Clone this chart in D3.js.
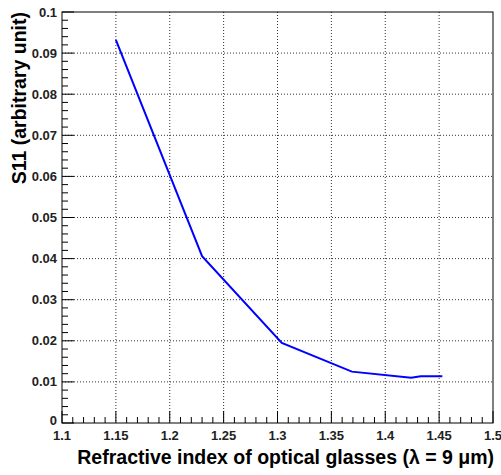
<!DOCTYPE html>
<html><head><meta charset="utf-8">
<script src="https://cdn.jsdelivr.net/npm/d3@7"></script>
<style>body{margin:0;background:#fff}svg{display:block}</style>
</head><body>
<script>
const xValues = [1.15, 1.23, 1.304, 1.369, 1.424, 1.433, 1.453];
const yValues = [0.0932, 0.0406, 0.0195, 0.0125, 0.0110, 0.0114, 0.0114];
const xTicks = [1.1, 1.15, 1.2, 1.25, 1.3, 1.35, 1.4, 1.45, 1.5];
const yTicks = [0, 0.01, 0.02, 0.03, 0.04, 0.05, 0.06, 0.07, 0.08, 0.09, 0.1];
const xTickLabels = ["1.1","1.15","1.2","1.25","1.3","1.35","1.4","1.45","1.5"];
const yTickLabels = ["0","0.01","0.02","0.03","0.04","0.05","0.06","0.07","0.08","0.09","0.1"];
const xTitle = "Refractive index of optical glasses (\u03bb = 9 \u03bcm)";
const yTitle = "S11 (arbitrary unit)";

const W = 501, H = 475;
const L = 62, R = 493, T = 12, B = 423;
const svg = d3.select("body").append("svg").attr("width", W).attr("height", H);
const x = d3.scaleLinear().domain([1.1, 1.5]).range([L, R]);
const y = d3.scaleLinear().domain([0, 0.1]).range([B, T]);
const font = "'Liberation Sans', Arial, sans-serif";

// grid
const g = svg.append("g");
g.selectAll(".vg").data(xTicks.slice(1, -1)).join("line")
  .attr("x1", d => x(d)).attr("x2", d => x(d)).attr("y1", T).attr("y2", B)
  .attr("stroke", "#333").attr("stroke-width", 1).attr("stroke-dasharray", "1,2");
g.selectAll(".hg").data(yTicks.slice(1, -1)).join("line")
  .attr("x1", L).attr("x2", R).attr("y1", d => y(d)).attr("y2", d => y(d))
  .attr("stroke", "#333").attr("stroke-width", 1).attr("stroke-dasharray", "1,2");

// minor ticks
const xMinor = d3.range(0, 41).map(i => 1.1 + i * 0.01);
const yMinor = d3.range(0, 51).map(i => i * 0.002);
svg.append("g").selectAll("line").data(xMinor).join("line")
  .attr("x1", d => x(d)).attr("x2", d => x(d)).attr("y1", B).attr("y2", (d, i) => B - (i % 5 === 0 ? 12 : 6))
  .attr("stroke", "#000").attr("stroke-width", 1);
svg.append("g").selectAll("line").data(yMinor).join("line")
  .attr("y1", d => y(d)).attr("y2", d => y(d)).attr("x1", L).attr("x2", (d, i) => L + (i % 5 === 0 ? 12 : 6))
  .attr("stroke", "#000").attr("stroke-width", 1);

// frame
svg.append("rect").attr("x", L).attr("y", T).attr("width", R - L).attr("height", B - T)
  .attr("fill", "none").attr("stroke", "#000").attr("stroke-width", 1);

// data line
const pts = xValues.map((v, i) => [v, yValues[i]]);
svg.append("path").datum(pts)
  .attr("d", d3.line().x(d => x(d[0])).y(d => y(d[1])))
  .attr("fill", "none").attr("stroke", "#0000ff").attr("stroke-width", 2);

// tick labels
svg.append("g").selectAll("text").data(xTicks).join("text")
  .attr("x", d => x(d)).attr("y", B + 17).attr("text-anchor", "middle")
  .attr("font-family", font).attr("font-weight", "bold").attr("font-size", 13).attr("fill", "#222")
  .text((d, i) => xTickLabels[i]);
svg.append("g").selectAll("text").data(yTicks).join("text")
  .attr("x", L - 5).attr("y", d => y(d) + (d === 0 ? 1.5 : 4.5)).attr("text-anchor", "end")
  .attr("font-family", font).attr("font-weight", "bold").attr("font-size", 13).attr("fill", "#222")
  .text((d, i) => yTickLabels[i]);

// axis titles
svg.append("text").attr("x", R + 1).attr("y", 464).attr("text-anchor", "end")
  .attr("font-family", font).attr("font-weight", "bold").attr("font-size", 19.5).attr("fill", "#000")
  .text(xTitle);
svg.append("text").attr("transform", `translate(26,${T}) rotate(-90)`).attr("text-anchor", "end")
  .attr("font-family", font).attr("font-weight", "bold").attr("font-size", 19.5).attr("fill", "#000")
  .text(yTitle);
</script>
</body></html>
